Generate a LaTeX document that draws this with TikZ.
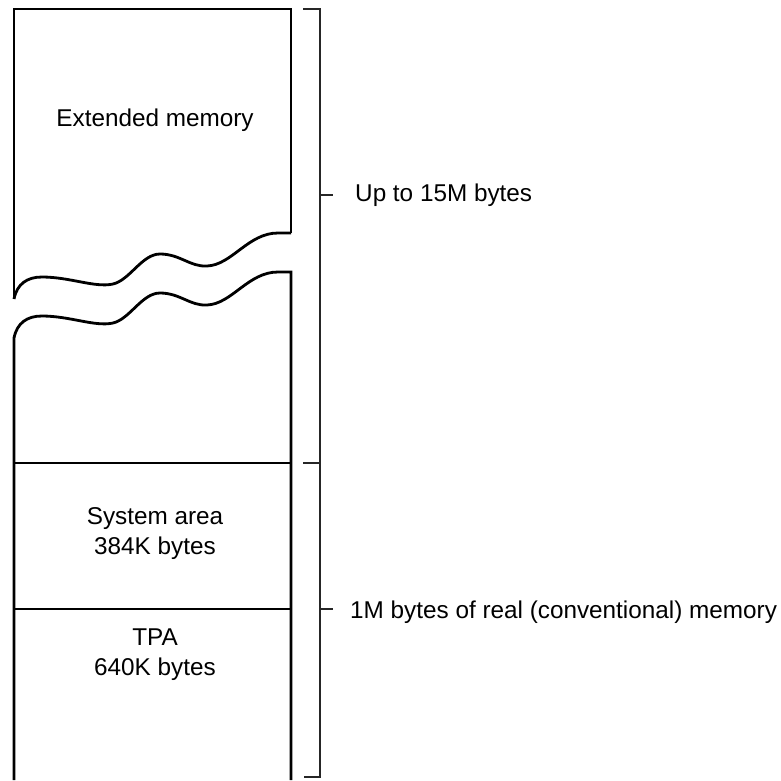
\documentclass[tikz,border=0pt]{standalone}
\usepackage{fontspec}
\setmainfont{Liberation Sans}
\begin{document}
\begin{tikzpicture}[x=1pt,y=-1pt,
  mem/.style={line width=2.8pt, line join=miter},
  brk/.style={line width=1.8pt, draw=black!85},
  lbl/.style={font=\fontsize{24.3}{30}\selectfont, inner sep=0pt, align=center}]
\useasboundingbox[fill=white] (0,0) rectangle (781,780);
% upper part of memory column
\draw[mem] (14,299) -- (14,9) -- (291,9) -- (291,233);
\draw[mem] (14,299) .. controls (17,284) and (27,277) .. (42,277)
  .. controls (70,277) and (95,288) .. (113,284)
  .. controls (130,280) and (142,254) .. (160,254)
  .. controls (180,254) and (190,267) .. (207,266)
  .. controls (232,265) and (248,233) .. (278,233) -- (291,233);
% lower part
\draw[mem] (14,780) -- (14,338) .. controls (17,323) and (27,316) .. (42,316)
  .. controls (70,316) and (95,327) .. (113,323)
  .. controls (130,319) and (142,293) .. (160,293)
  .. controls (180,293) and (190,306) .. (207,305)
  .. controls (232,304) and (248,272) .. (278,272) -- (291,272) -- (291,780);
\draw[mem] (14,463) -- (291,463);
\draw[mem] (14,609) -- (291,609);
% labels
\node[lbl] (ext) at (155,120) {Extended memory};
\node[lbl] (sys) at (155,534) {System area\\384K bytes};
\node[lbl] (tpa) at (155,655) {TPA\\640K bytes};
\node[lbl, anchor=west] (up) at (355,195) {Up to 15M bytes};
\node[lbl, anchor=west] (real) at (350,612) {1M bytes of real (conventional) memory};
% brackets
\coordinate (btop) at (320,9);
\coordinate (bmid) at (320,463);
\coordinate (bbot) at (320,777);
\draw[brk] (303,9) -- (btop) -- (bbot) -- (304,777);
\draw[brk] (303,463) -- (bmid);
\draw[brk] (320,195) -- (333,195);
\draw[brk] (320,609) -- (333,609);
\end{tikzpicture}
\end{document}
